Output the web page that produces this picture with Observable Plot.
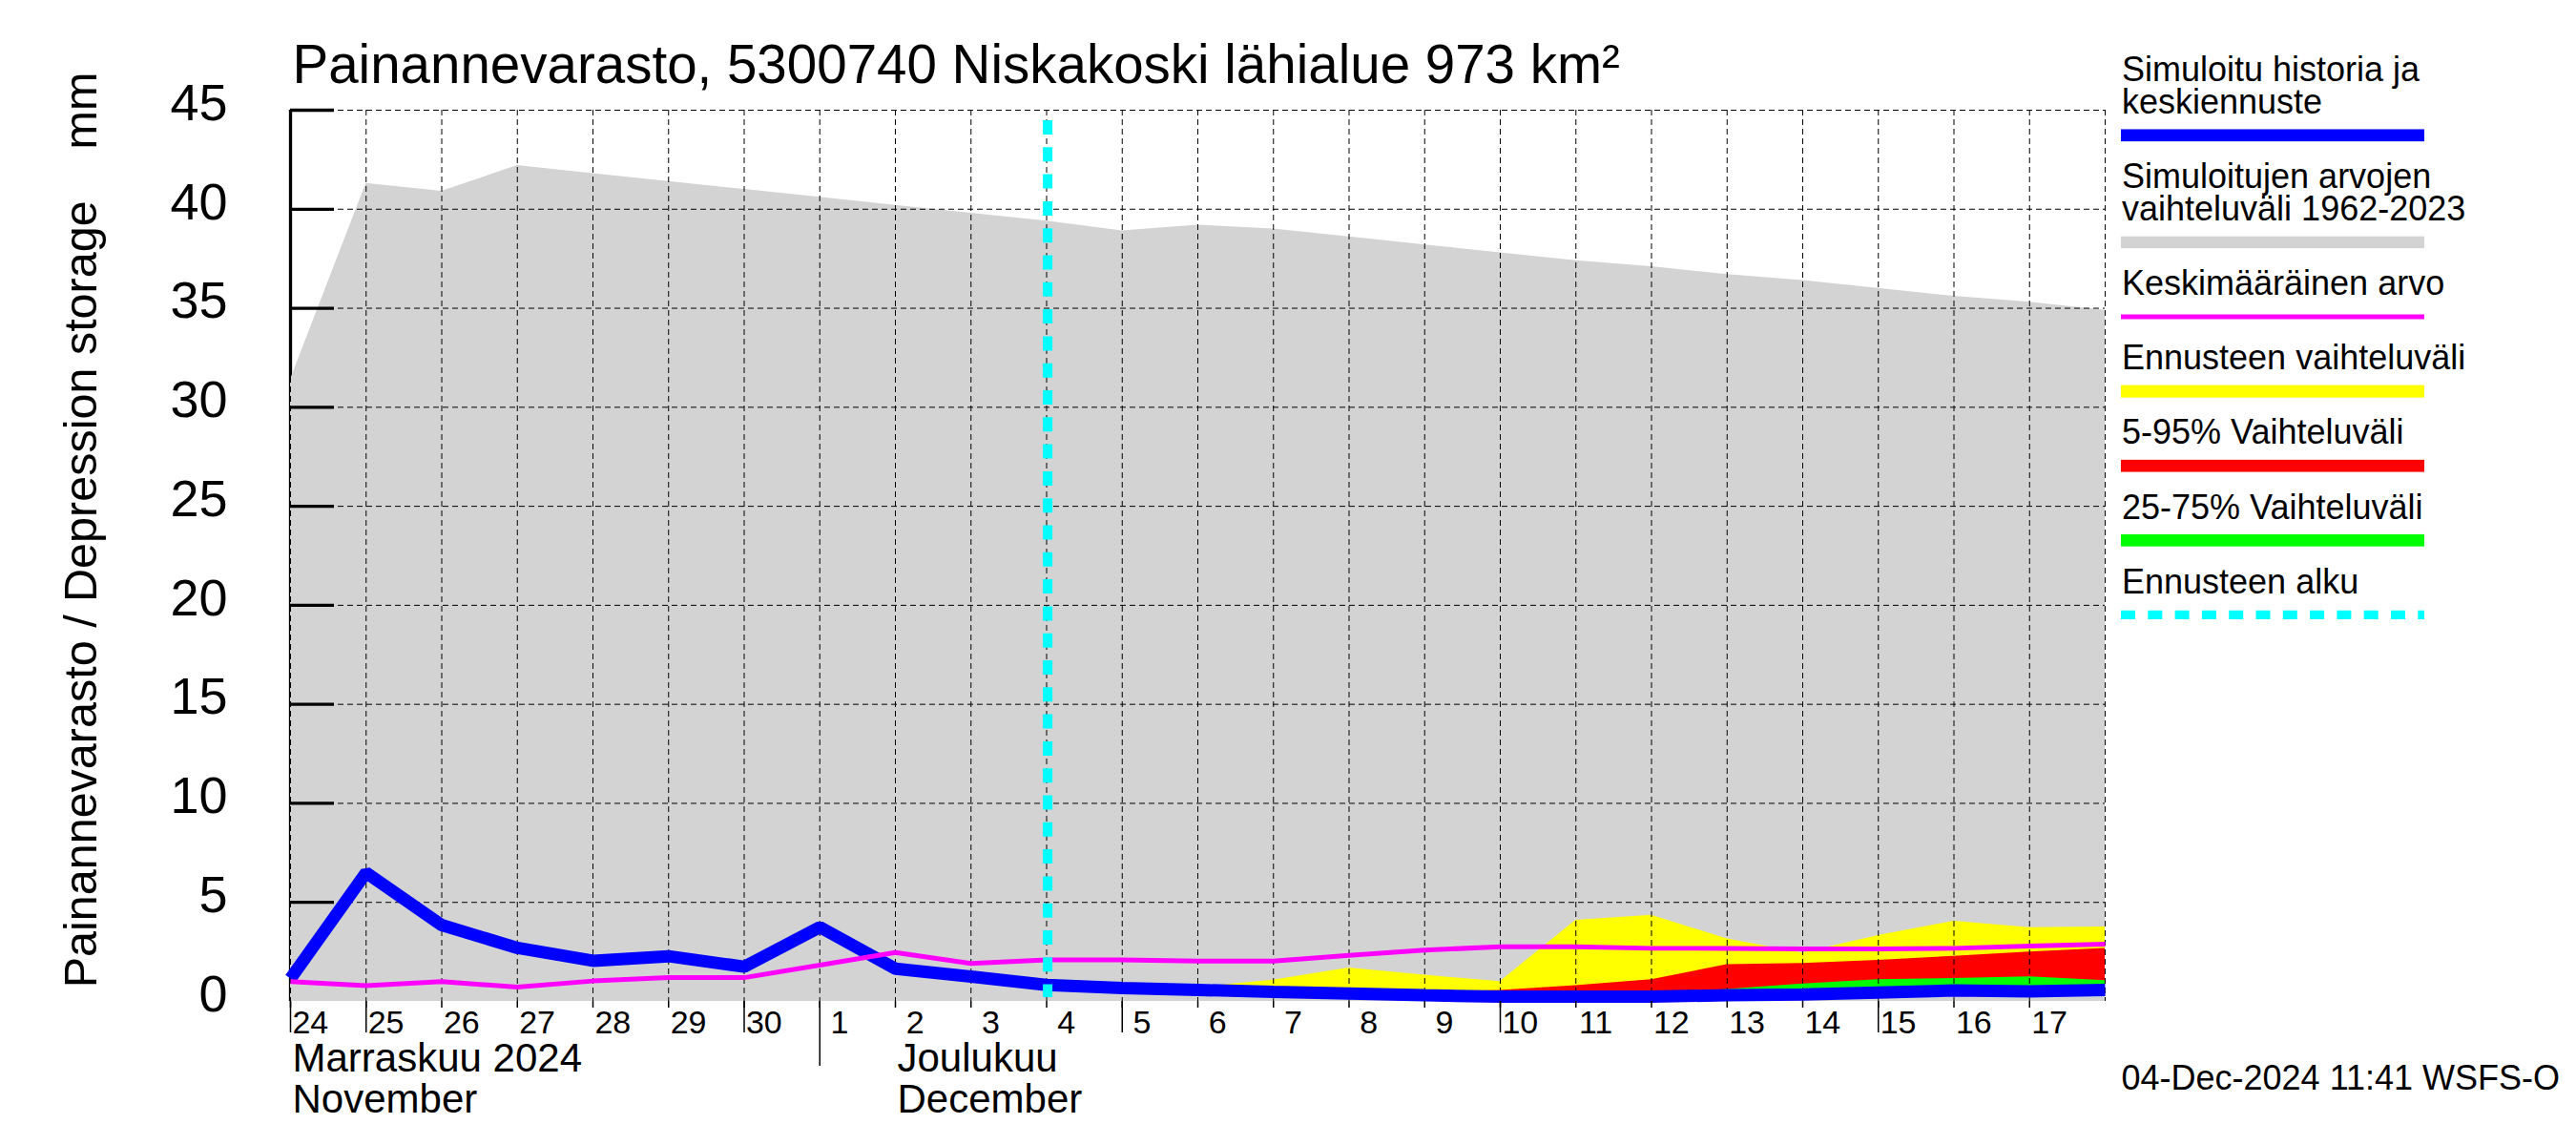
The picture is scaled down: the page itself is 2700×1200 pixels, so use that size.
<!DOCTYPE html>
<html>
<head>
<meta charset="utf-8">
<script src="https://cdn.jsdelivr.net/npm/d3@7"></script>
<script src="https://cdn.jsdelivr.net/npm/@observablehq/plot@0.6"></script>
<style>
  body { margin: 0; background: #ffffff; }
  #chart { width: 2700px; height: 1200px; }
</style>
</head>
<body>
<div id="chart"></div>
<script>
// ---------------- data ----------------
const titleText = "Painannevarasto, 5300740 Niskakoski lähialue 973 km²";
const yLabelText = "Painannevarasto / Depression storage    mm";
const stampText = "04-Dec-2024 11:41 WSFS-O";

const histDates = [
  "2024-11-24","2024-11-25","2024-11-26","2024-11-27","2024-11-28","2024-11-29","2024-11-30",
  "2024-12-01","2024-12-02","2024-12-03","2024-12-04","2024-12-05","2024-12-06","2024-12-07",
  "2024-12-08","2024-12-09","2024-12-10","2024-12-11","2024-12-12","2024-12-13","2024-12-14",
  "2024-12-15","2024-12-16","2024-12-17","2024-12-18"
];
// simulated range 1962-2023 (upper edge of grey area)
const rangeUpper = [31.4,41.3,40.9,42.2,41.8,41.4,41.0,40.6,40.2,39.8,39.4,38.9,39.2,39.0,38.6,38.2,37.8,37.4,37.1,36.7,36.4,36.0,35.6,35.3,34.9];
// simulated history + median forecast (blue)
const simulated = [1.15,6.5,3.85,2.7,2.05,2.28,1.75,3.75,1.65,1.25,0.83,0.67,0.58,0.48,0.40,0.31,0.24,0.24,0.24,0.31,0.35,0.45,0.55,0.50,0.58];
// mean value (magenta)
const meanValues = [1.0,0.79,1.0,0.72,1.03,1.2,1.2,1.83,2.47,1.91,2.09,2.09,2.04,2.04,2.33,2.59,2.76,2.76,2.68,2.68,2.65,2.65,2.68,2.79,2.89];

const forecastDates = [
  "2024-12-04","2024-12-05","2024-12-06","2024-12-07","2024-12-08","2024-12-09","2024-12-10",
  "2024-12-11","2024-12-12","2024-12-13","2024-12-14","2024-12-15","2024-12-16","2024-12-17","2024-12-18"
];
const fcMinLow   = [0.83,0.50,0.40,0.30,0.25,0.20,0.15,0.15,0.15,0.20,0.25,0.30,0.35,0.35,0.40];
const fcMaxHigh  = [0.83,0.70,0.72,1.07,1.69,1.32,1.00,4.10,4.35,3.16,2.45,3.32,4.05,3.72,3.76];
const fc5Low     = [0.83,0.55,0.45,0.35,0.30,0.25,0.20,0.20,0.20,0.25,0.30,0.35,0.40,0.40,0.45];
const fc95High   = [0.83,0.66,0.58,0.50,0.45,0.45,0.55,0.79,1.10,1.85,1.91,2.07,2.28,2.49,2.68];
const fc25Low    = [0.83,0.60,0.50,0.40,0.33,0.27,0.22,0.22,0.22,0.27,0.32,0.38,0.45,0.45,0.50];
const fc75High   = [0.83,0.66,0.56,0.46,0.38,0.30,0.25,0.25,0.30,0.60,0.88,1.10,1.16,1.24,1.05];

const forecastStart = "2024-12-04T00:20:00Z";

const yTicks = [5,10,15,20,25,30,35,40,45];
const yTickLabels = [0,5,10,15,20,25,30,35,40,45];

const dayLabels = ["24","25","26","27","28","29","30","1","2","3","4","5","6","7","8","9","10","11","12","13","14","15","16","17"];
const longTickDates = ["2024-11-24","2024-11-25","2024-11-30","2024-12-05","2024-12-10","2024-12-15"];
const monthTickDates = ["2024-12-01"];
const monthLabelDates = ["2024-11-24","2024-12-02"];
const monthLabelsFi = ["Marraskuu 2024","Joulukuu"];
const monthLabelsEn = ["November","December"];

const legendLabels = [
  ["Simuloitu historia ja","keskiennuste"],
  ["Simuloitujen arvojen","vaihteluväli 1962-2023"],
  ["Keskimääräinen arvo"],
  ["Ennusteen vaihteluväli"],
  ["5-95% Vaihteluväli"],
  ["25-75% Vaihteluväli"],
  ["Ennusteen alku"]
];
const legendColors = ["#0000ff","#d3d3d3","#ff00ff","#ffff00","#ff0000","#00ff00","#00ffff"];
const legendThickness = [12.7,12.5,5,13,12.7,12.7,9.3];
const legendDashed = [false,false,false,false,false,false,true];

// ---------------- build ----------------
const D = s => new Date(s.length > 10 ? s : s + "T00:00:00Z");
const hist = histDates.map((d,i) => ({date: D(d), upper: rangeUpper[i], sim: simulated[i], mean: meanValues[i]}));
const fc = forecastDates.map((d,i) => ({date: D(d), minL: fcMinLow[i], maxH: fcMaxHigh[i], p5: fc5Low[i], p95: fc95High[i], p25: fc25Low[i], p75: fc75High[i]}));
const gridDays = histDates.map(D);
const labelDays = histDates.slice(0, dayLabels.length).map(D);
const labelData = dayLabels.map((t,i) => ({date: d3.utcHour.offset(labelDays[i], 6), t}));

const W = 2700, H = 1200;
const mL = 304, mR = 494, mT = 115, mB = 151;
const plotW = W - mL - mR, plotH = H - mT - mB;
const font = "'Liberation Sans', Arial, Helvetica, sans-serif";
const dash = "6,4";

const chart = Plot.plot({
  width: W, height: H,
  marginLeft: mL, marginRight: mR, marginTop: mT, marginBottom: mB,
  x: {type: "utc", domain: [gridDays[0], gridDays[gridDays.length-1]], axis: null},
  y: {domain: [0, 45], axis: null},
  style: {fontFamily: font, background: "#ffffff", color: "#000000"},
  marks: [
    // left axis line
    Plot.ruleX([gridDays[0]], {stroke: "black", strokeWidth: 3.3}),
    // historical range
    Plot.areaY(hist, {x: "date", y1: 0, y2: "upper", fill: "#d3d3d3"}),
    // forecast bands
    Plot.areaY(fc, {x: "date", y1: "minL", y2: "maxH", fill: "#ffff00"}),
    Plot.areaY(fc, {x: "date", y1: "p5", y2: "p95", fill: "#ff0000"}),
    Plot.areaY(fc, {x: "date", y1: "p25", y2: "p75", fill: "#00ff00"}),
    // grid
    Plot.ruleX(gridDays, {stroke: "black", strokeWidth: 1, strokeDasharray: dash}),
    Plot.ruleY(yTicks, {stroke: "black", strokeWidth: 1, strokeDasharray: dash}),
    // y ticks (inward)
    Plot.tickY(yTicks, {y: d => d, stroke: "black", strokeWidth: 3.3, insetRight: plotW - 46}),
    // series
    Plot.line(hist, {x: "date", y: "sim", stroke: "#0000ff", strokeWidth: 13, strokeLinecap: "butt", strokeLinejoin: "miter"}),
    Plot.line(hist, {x: "date", y: "mean", stroke: "#ff00ff", strokeWidth: 5, strokeLinecap: "butt"}),
    Plot.ruleX([D(forecastStart)], {stroke: "#00ffff", strokeWidth: 10, strokeDasharray: "15,13.3", insetTop: 11, insetBottom: 4}),
    // x ticks
    Plot.ruleX(gridDays.slice(0, -1), {stroke: "black", strokeWidth: 1.5, insetTop: plotH, insetBottom: -7}),
    Plot.ruleX(longTickDates.map(D), {stroke: "black", strokeWidth: 1.5, insetTop: plotH, insetBottom: -33}),
    Plot.ruleX(monthTickDates.map(D), {stroke: "black", strokeWidth: 1.5, insetTop: plotH, insetBottom: -68}),
    // texts
    Plot.text(labelData, {x: "date", text: "t", frameAnchor: "bottom", dy: 33, dx: 1, lineAnchor: "bottom", fontSize: 34}),
    Plot.text(monthLabelDates.map((d,i) => ({date: D(d), t: monthLabelsFi[i]})), {x: "date", text: "t", frameAnchor: "bottom", dx: 2, dy: 73, textAnchor: "start", lineAnchor: "bottom", fontSize: 42}),
    Plot.text(monthLabelDates.map((d,i) => ({date: D(d), t: monthLabelsEn[i]})), {x: "date", text: "t", frameAnchor: "bottom", dx: 2, dy: 116, textAnchor: "start", lineAnchor: "bottom", fontSize: 42}),
    Plot.text(yTickLabels, {y: d => d, text: d => String(d), frameAnchor: "left", dx: -66, dy: -7, textAnchor: "end", fontSize: 54}),
    Plot.text([yLabelText], {frameAnchor: "left", rotate: -90, dx: -204, dy: -27, lineAnchor: "bottom", textAnchor: "middle", fontSize: 48.5}),
    Plot.text([titleText], {frameAnchor: "top-left", dx: 2, dy: -28.5, textAnchor: "start", lineAnchor: "bottom", fontSize: 56.5}),
    Plot.text([stampText], {frameAnchor: "bottom-right", dx: 17, dy: 92, textAnchor: "start", lineAnchor: "bottom", fontSize: 36})
  ]
});
document.getElementById("chart").appendChild(chart);

// ---------------- legend ----------------
const svg = d3.select(chart);
const lg = svg.append("g").attr("font-family", font).attr("font-size", 36).attr("fill", "black").attr("text-anchor", "start");
const lx = 2224, lw = 318;
let yb = 85;
legendLabels.forEach((lines, i) => {
  lines.forEach((ln, j) => {
    lg.append("text").attr("x", lx).attr("y", yb + j * 34).attr("text-anchor", "start").text(ln);
  });
  const lastBase = yb + (lines.length - 1) * 34;
  const cy = lastBase + 22.8;
  const h = legendThickness[i];
  if (legendDashed[i]) {
    lg.append("line").attr("x1", lx - 1).attr("x2", lx - 1 + lw).attr("y1", cy).attr("y2", cy)
      .attr("stroke", legendColors[i]).attr("stroke-width", h).attr("stroke-dasharray", "15,13.3");
  } else {
    lg.append("rect").attr("x", lx - 1).attr("y", cy - h / 2).attr("width", lw).attr("height", h)
      .attr("fill", legendColors[i]);
  }
  yb = cy + 55.3;
});
</script>
</body>
</html>
